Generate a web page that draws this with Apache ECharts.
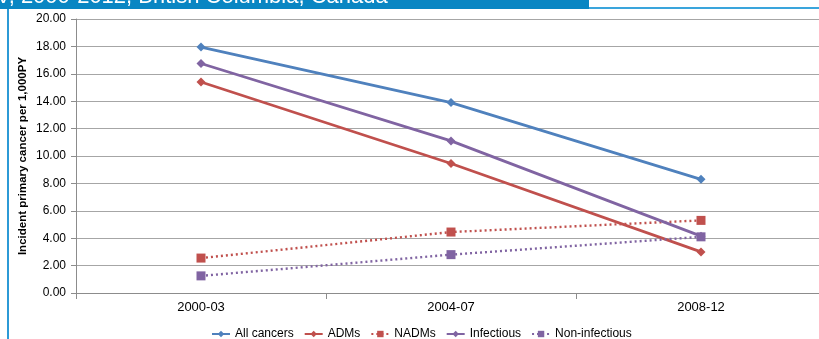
<!DOCTYPE html>
<html><head><meta charset="utf-8">
<script src="https://cdn.jsdelivr.net/npm/echarts@6/dist/echarts.min.js"></script>
<style>html,body{margin:0;padding:0;background:#fff;overflow:hidden}#c{width:830px;height:339px}</style>
</head><body><div id="c"></div>
<script>
const categories = ['2000-03', '2004-07', '2008-12'];
const allCancers = [17.95, 13.9, 8.3];
const adms = [15.4, 9.45, 3.0];
const nadms = [2.55, 4.45, 5.3];
const infectious = [16.75, 11.1, 4.15];
const nonInfectious = [1.25, 2.8, 4.1];
const yTicks = [0, 2, 4, 6, 8, 10, 12, 14, 16, 18, 20];

const BLUE = '#4F81BD', RED = '#C0504D', PURPLE = '#8064A2';
const chart = echarts.init(document.getElementById('c'));
function solid(name, data, color) {
  return {name, type: 'line', data, symbol: 'diamond', symbolSize: 9,
    itemStyle: {color}, lineStyle: {color, width: 2.8}, z: 3};
}
function dotted(name, data, color) {
  return {name, type: 'line', data, symbol: 'rect', symbolSize: 9,
    itemStyle: {color}, lineStyle: {color, width: 2.4, type: [2, 3]}, z: 3};
}
chart.setOption({
  animation: false,
  textStyle: {fontFamily: 'Liberation Sans, Arial, sans-serif'},
  graphic: [
    {type: 'rect', shape: {x: 0, y: 0, width: 589, height: 9}, style: {fill: '#0986C3'}, z: 10},
    {type: 'rect', shape: {x: 589, y: 7, width: 241, height: 2}, style: {fill: '#3AA5DC'}, z: 10},
    {type: 'rect', shape: {x: 7, y: 9, width: 2, height: 330}, style: {fill: '#2C9AD6'}, z: 10},
    {type: 'text', left: -4, top: -14, z: 11,
      style: {text: 'V, 2000-2012, British Columbia, Canada', fill: '#fff', font: '22px "Liberation Sans", Arial, sans-serif'}}
  ],
  grid: {left: 76, right: 4, top: 19, height: 274},
  legend: {
    top: 323, left: 206, itemWidth: 18, itemHeight: 8, itemGap: 10,
    textStyle: {fontSize: 12, color: '#000'},
    data: ['All cancers', 'ADMs', 'NADMs', 'Infectious', 'Non-infectious']
  },
  xAxis: {
    type: 'category', data: categories, boundaryGap: true,
    axisLine: {lineStyle: {color: '#8c8c8c'}},
    axisTick: {show: true, length: 6, lineStyle: {color: '#8c8c8c'}},
    axisLabel: {color: '#000', fontSize: 13, margin: 8}
  },
  yAxis: {
    type: 'value', min: 0, max: 20, interval: 2,
    name: 'Incident primary cancer per 1,000PY', nameLocation: 'middle', nameGap: 47,
    nameMoveOverlap: false,
    nameTextStyle: {fontSize: 11.5, color: '#000', fontWeight: 'bold'},
    axisLine: {show: true, lineStyle: {color: '#8c8c8c'}},
    axisTick: {show: true, length: 5, lineStyle: {color: '#8c8c8c'}},
    axisLabel: {color: '#000', fontSize: 12, margin: 10, formatter: v => yTicks.includes(v) ? v.toFixed(2) : ''},
    splitLine: {lineStyle: {color: '#a6a6a6', width: 1.2}}
  },
  series: [
    solid('All cancers', allCancers, BLUE),
    solid('ADMs', adms, RED),
    dotted('NADMs', nadms, RED),
    solid('Infectious', infectious, PURPLE),
    dotted('Non-infectious', nonInfectious, PURPLE)
  ]
});
</script></body></html>
